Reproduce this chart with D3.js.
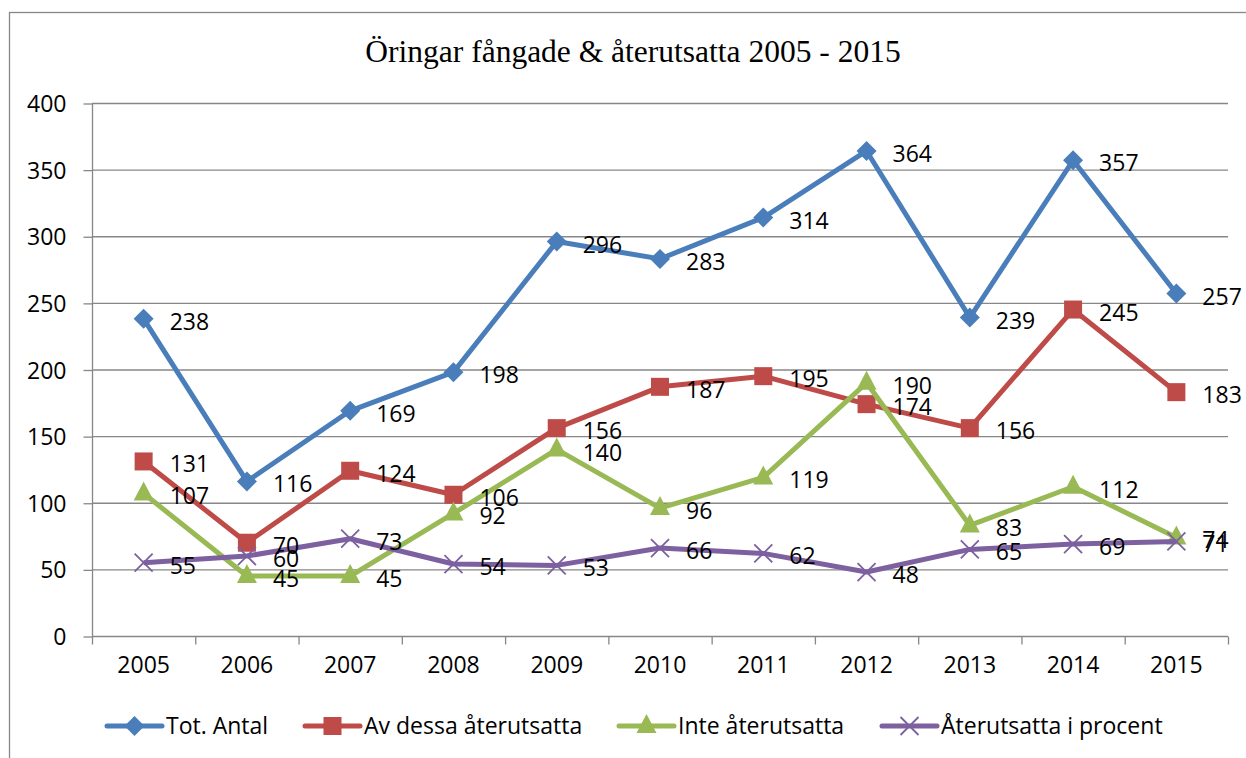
<!DOCTYPE html>
<html>
<head>
<meta charset="utf-8">
<script src="https://d3js.org/d3.v7.min.js"></script>
<style>
	body { margin: 0; background: #fff; }
	svg { display: block; }
	text { font-family: "Open Sans", "Noto Sans", sans-serif; fill: #000; }
	.title { font-family: "Liberation Serif", "DejaVu Serif", serif; font-size: 31.5px; }
</style>
</head>
<body>
<svg width="1246" height="758"></svg>
<script>

// values
var years = ["2005","2006","2007","2008","2009","2010","2011","2012","2013","2014","2015"];
var totAntal = [238,116,169,198,296,283,314,364,239,357,257];
var avDessa = [131,70,124,106,156,187,195,174,156,245,183];
var inteAter = [107,45,45,92,140,96,119,190,83,112,74];
var procent = [55,60,73,54,53,66,62,48,65,69,71];
var yTicks = [0,50,100,150,200,250,300,350,400];

var series = [
	{name: "Tot. Antal", values: totAntal, color: "#4A7EBB", marker: "diamond"},
	{name: "Av dessa återutsatta", values: avDessa, color: "#BE4B48", marker: "square"},
	{name: "Inte återutsatta", values: inteAter, color: "#98B954", marker: "triangle"},
	{name: "Återutsatta i procent", values: procent, color: "#7D60A0", marker: "x"}
];

var svg = d3.select("svg");
var grey = "#878787";
var fs = 23;

// outer chart border (runs off the right and bottom edge)
svg.append("rect")
	.attr("x", 9.5).attr("y", 12.5)
	.attr("width", 1260).attr("height", 760)
	.attr("fill", "none").attr("stroke", grey).attr("stroke-width", 1.3);

svg.append("text").attr("class", "title")
	.attr("x", 633).attr("y", 62)
	.attr("text-anchor", "middle")
	.text("Öringar fångade & återutsatta 2005 - 2015");

var plotLeft = 92, plotRight = 1228, plotTop = 103, plotBottom = 636;

var x = d3.scaleBand().domain(years).range([plotLeft, plotRight]);
var y = d3.scaleLinear().domain([0, 400]).range([plotBottom, plotTop]);

// gridlines
svg.append("g").selectAll("line").data(yTicks.filter(function(d){ return d > 0; }))
	.join("line")
	.attr("x1", plotLeft).attr("x2", plotRight)
	.attr("y1", function(d){ return y(d) + 0.5; })
	.attr("y2", function(d){ return y(d) + 0.5; })
	.attr("stroke", grey).attr("stroke-width", 1.3);

// y axis
var yaxis = svg.append("g")
	.attr("transform", "translate(" + (plotLeft + 0.5) + ",0.5)")
	.call(d3.axisLeft(y).tickValues(yTicks).tickSize(9).tickPadding(17));
yaxis.selectAll("line, path").attr("stroke", grey).attr("stroke-width", 1.3);
yaxis.select(".domain").attr("d", "M0," + y(400) + "V" + y(0));
yaxis.selectAll("text").attr("font-size", fs).attr("font-family", null)
	.attr("dy", "0.35em");

// x axis
var xaxis = svg.append("g")
	.attr("transform", "translate(0," + (plotBottom + 0.5) + ")")
	.call(d3.axisBottom(x).tickSize(0).tickPadding(20));
xaxis.select(".domain").attr("d", "M" + plotLeft + ",0H" + plotRight)
	.attr("stroke", grey).attr("stroke-width", 1.3);
xaxis.selectAll("text").attr("font-size", fs).attr("font-family", null);
// category boundary ticks
xaxis.append("g").selectAll("line").data(years.concat(["end"]))
	.join("line")
	.attr("x1", function(d, i){ return plotLeft + i * x.step() + 0.5; })
	.attr("x2", function(d, i){ return plotLeft + i * x.step() + 0.5; })
	.attr("y1", 0).attr("y2", 8)
	.attr("stroke", grey).attr("stroke-width", 1.3);

function cx(i){ return x(years[i]) + x.bandwidth() / 2; }

function drawMarker(g, type, color, px, py) {
	if (type === "diamond") {
		g.append("path")
			.attr("d", "M" + px + "," + (py - 10) + "L" + (px + 10) + "," + py + "L" + px + "," + (py + 10) + "L" + (px - 10) + "," + py + "Z")
			.attr("fill", color);
	} else if (type === "square") {
		g.append("rect").attr("x", px - 9).attr("y", py - 9)
			.attr("width", 18).attr("height", 18).attr("fill", color);
	} else if (type === "triangle") {
		g.append("path")
			.attr("d", "M" + px + "," + (py - 12) + "L" + (px + 10) + "," + (py + 7) + "L" + (px - 10) + "," + (py + 7) + "Z")
			.attr("fill", color);
	} else {
		g.append("path")
			.attr("d", "M" + (px - 9) + "," + (py - 9) + "L" + (px + 9) + "," + (py + 9) + "M" + (px + 9) + "," + (py - 9) + "L" + (px - 9) + "," + (py + 9))
			.attr("stroke", color).attr("stroke-width", 1.8).attr("fill", "none");
	}
}

var line = d3.line()
	.x(function(d, i){ return cx(i); })
	.y(function(d){ return y(d); });

series.forEach(function(s) {
	var g = svg.append("g");
	g.append("path").datum(s.values)
		.attr("d", line)
		.attr("fill", "none")
		.attr("stroke", s.color)
		.attr("stroke-width", 5)
		.attr("stroke-linejoin", "round");
	s.values.forEach(function(v, i) {
		drawMarker(g, s.marker, s.color, cx(i), y(v));
	});
});

// data labels on top
series.forEach(function(s) {
	svg.append("g").selectAll("text").data(s.values)
		.join("text")
		.attr("x", function(d, i){ return cx(i) + 26; })
		.attr("y", function(d){ return y(d) + 3; })
		.attr("dy", "0.35em")
		.attr("font-size", fs)
		.text(function(d){ return d; });
});

// legend
var legendX = [107, 305, 619, 882];
var legendY = 726;
series.forEach(function(s, i) {
	var g = svg.append("g");
	var x0 = legendX[i], len = 55;
	g.append("line")
		.attr("x1", x0).attr("x2", x0 + len)
		.attr("y1", legendY).attr("y2", legendY)
		.attr("stroke", s.color).attr("stroke-width", 5).attr("stroke-linecap", "round");
	drawMarker(g, s.marker, s.color, x0 + len / 2, legendY);
	g.append("text")
		.attr("x", x0 + len + 4).attr("y", legendY)
		.attr("dy", "0.35em")
		.attr("font-size", fs)
		.text(s.name);
});

</script>
</body>
</html>
